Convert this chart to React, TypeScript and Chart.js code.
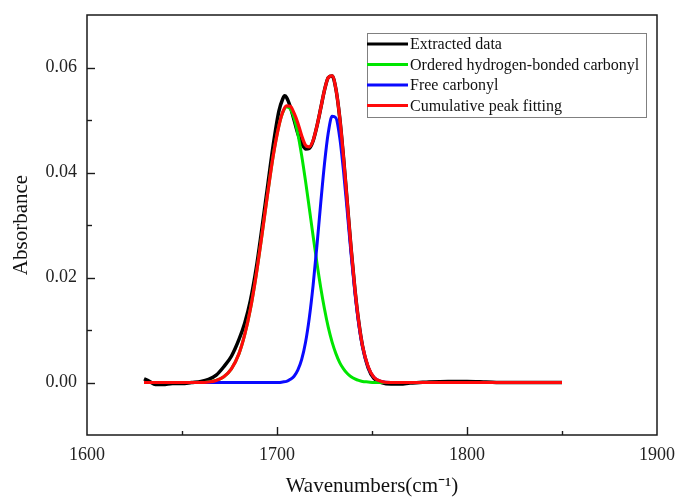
import React, { useEffect, useRef } from "react";
import { Chart, registerables } from "chart.js";
Chart.register(...registerables);

// Extracted (measured) spectrum
const dataX = [1630, 1633, 1636, 1640, 1645, 1650, 1655, 1660, 1664, 1668, 1672, 1676, 1680, 1683, 1686, 1689, 1692, 1695, 1698, 1701, 1703, 1704, 1705, 1707, 1709, 1711, 1713, 1715, 1717, 1719, 1721, 1723, 1725, 1727, 1729, 1731, 1733, 1735, 1737, 1739, 1741, 1743, 1745, 1748, 1751, 1755, 1760, 1765, 1770, 1775, 1780, 1790, 1800, 1810, 1820, 1830, 1840, 1850];
const extractedY = [0.0007, 0.0002, -0.0004, -0.0004, -0.0002, -0.0002, 0.0, 0.0002, 0.0006, 0.0014, 0.003, 0.005, 0.0082, 0.0113, 0.0156, 0.0216, 0.0292, 0.0372, 0.0452, 0.0517, 0.054, 0.0546, 0.0543, 0.0525, 0.05, 0.0474, 0.0455, 0.0445, 0.0446, 0.0460, 0.0488, 0.0522, 0.0557, 0.0581, 0.0584, 0.0559, 0.0505, 0.0429, 0.0342, 0.0255, 0.0178, 0.0116, 0.007, 0.0028, 0.0008, 0.0, -0.0003, -0.0003, -0.0001, 0.0, 0.0001, 0.0002, 0.0002, 0.0001, 0.0, 0.0, 0.0, 0.0];

// Fitted curves
const fitX = [1630, 1640, 1650, 1655, 1660, 1664, 1668, 1672, 1676, 1680, 1683, 1686, 1689, 1692, 1695, 1698, 1701, 1703, 1705, 1707, 1709, 1711, 1713, 1715, 1717, 1719, 1721, 1723, 1725, 1727, 1729, 1731, 1733, 1735, 1737, 1739, 1741, 1743, 1745, 1748, 1751, 1755, 1760, 1770, 1800, 1850];
const orderedY = [0, 0, 0, 0, 0, 0.0001, 0.0004, 0.0011, 0.0026, 0.0055, 0.0091, 0.014, 0.0204, 0.0279, 0.0358, 0.0432, 0.0489, 0.0514, 0.0525, 0.0521, 0.0503, 0.0473, 0.0432, 0.0384, 0.0332, 0.0279, 0.0228, 0.0181, 0.014, 0.0105, 0.0077, 0.0055, 0.0038, 0.0026, 0.0017, 0.0011, 0.0007, 0.0004, 0.0002, 0.0001, 0, 0, 0, 0, 0, 0];
const freeY = [0, 0, 0, 0, 0, 0, 0, 0, 0, 0, 0, 0, 0, 0, 0, 0, 0, 0.0001, 0.0002, 0.0006, 0.0012, 0.0024, 0.0044, 0.0076, 0.0123, 0.0185, 0.026, 0.0341, 0.0417, 0.0476, 0.0507, 0.0504, 0.0467, 0.0403, 0.0325, 0.0244, 0.0171, 0.0112, 0.0068, 0.0029, 0.001, 0.0002, 0, 0, 0, 0];
const cumulativeY = [0, 0, 0, 0, 0, 0.0001, 0.0004, 0.0011, 0.0026, 0.0055, 0.0091, 0.014, 0.0204, 0.0279, 0.0358, 0.0432, 0.0489, 0.0515, 0.0527, 0.0526, 0.0513, 0.0494, 0.0470, 0.0452, 0.0449, 0.0461, 0.0488, 0.0522, 0.0557, 0.0581, 0.0584, 0.0559, 0.0505, 0.0429, 0.0342, 0.0255, 0.0178, 0.0116, 0.007, 0.003, 0.001, 0.0002, 0, 0, 0, 0];

const seriesLabels = ["Extracted data", "Ordered hydrogen-bonded carbonyl", "Free carbonyl", "Cumulative peak fitting"];
const seriesColors = ["#000000", "#00e600", "#0a0aff", "#ff0a0a"];

const xTitle = "Wavenumbers(cm\u207B\u00B9)";
const yTitle = "Absorbance";

const FONT = '"Liberation Serif", "Times New Roman", serif';

const zip = (xs: number[], ys: number[]) => xs.map((x, i) => ({ x, y: ys[i] }));

const framePlugin = {
  id: "frameTicksLegend",
  afterDatasetsDraw(chart: any) {
    const { ctx, chartArea: a, scales } = chart;
    ctx.save();
    ctx.strokeStyle = "#1a1a1a";
    ctx.lineWidth = 1.5;
    ctx.strokeRect(a.left, a.top, a.right - a.left, a.bottom - a.top);
    ctx.lineWidth = 1.4;
    const xs = scales.x;
    xs.ticks.forEach((t: any) => {
      const v = t.value;
      if (v <= xs.min || v >= xs.max) return;
      const px = Math.round(xs.getPixelForValue(v)) + 0.5;
      const len = v % 100 === 0 ? 8 : 4;
      ctx.beginPath();
      ctx.moveTo(px, a.bottom);
      ctx.lineTo(px, a.bottom - len);
      ctx.stroke();
    });
    const ys = scales.y;
    ys.ticks.forEach((t: any) => {
      const v = t.value;
      if (v <= ys.min + 1e-9 || v >= ys.max - 1e-9) return;
      const py = Math.round(ys.getPixelForValue(v)) + 0.5;
      const major = Math.round(v * 100) % 2 === 0;
      const len = major ? 8 : 5;
      ctx.beginPath();
      ctx.moveTo(a.left, py);
      ctx.lineTo(a.left + len, py);
      ctx.stroke();
    });
    // legend
    const bx = a.left + 280;
    const by = a.top + 18;
    const bw = 279;
    const bh = 84;
    ctx.fillStyle = "#ffffff";
    ctx.fillRect(bx, by, bw, bh);
    ctx.strokeStyle = "#808080";
    ctx.lineWidth = 1;
    ctx.strokeRect(bx + 0.5, by + 0.5, bw, bh);
    ctx.font = `16px ${FONT}`;
    ctx.textBaseline = "middle";
    ctx.textAlign = "left";
    chart.data.datasets.forEach((ds: any, i: number) => {
      const ry = by + 11 + i * 20.5;
      ctx.strokeStyle = ds.borderColor;
      ctx.lineWidth = 3;
      ctx.beginPath();
      ctx.moveTo(bx, ry);
      ctx.lineTo(bx + 41, ry);
      ctx.stroke();
      ctx.fillStyle = "#111111";
      ctx.fillText(ds.label, bx + 43, ry + 1);
    });
    ctx.restore();
  },
};

export default function App() {
  const ref = useRef<HTMLCanvasElement | null>(null);
  useEffect(() => {
    document.body.style.margin = "0";
    const canvas = ref.current;
    if (!canvas) return;
    Chart.defaults.font.family = FONT;
    const mk = (i: number, data: any[], order: number, width: number) => ({
      label: seriesLabels[i],
      data,
      borderColor: seriesColors[i],
      backgroundColor: seriesColors[i],
      borderWidth: width,
      pointRadius: 0,
      fill: false,
      cubicInterpolationMode: "monotone" as const,
      order,
    });
    const chart = new Chart(canvas, {
      type: "line",
      data: {
        datasets: [
          mk(0, zip(dataX, extractedY), 4, 3.5),
          mk(1, zip(fitX, orderedY), 3, 3),
          mk(2, zip(fitX, freeY), 2, 3),
          mk(3, zip(fitX, cumulativeY), 1, 3.2),
        ],
      },
      options: {
        animation: false,
        responsive: false,
        devicePixelRatio: 1,
        layout: { padding: { left: 0, top: 15, right: 18, bottom: 0 } },
        plugins: { legend: { display: false }, tooltip: { enabled: false } },
        scales: {
          x: {
            type: "linear",
            min: 1600,
            max: 1900,
            grid: { display: false, drawTicks: false },
            border: { display: false },
            ticks: {
              stepSize: 50,
              autoSkip: false,
              maxRotation: 0,
              padding: 9,
              color: "#222",
              font: { size: 18, family: FONT },
              callback: (v: any) => (Number(v) % 100 === 0 ? String(v) : ""),
            },
            title: {
              display: true,
              text: xTitle,
              color: "#111",
              font: { size: 21, family: FONT, lineHeight: 1 },
              padding: { top: 0, bottom: 0 },
            },
            afterFit: (s: any) => {
              s.height = 62;
              s.paddingLeft = 0;
              s.paddingRight = 0;
            },
          },
          y: {
            type: "linear",
            min: -0.01,
            max: 0.07,
            grid: { display: false, drawTicks: false },
            border: { display: false },
            ticks: {
              stepSize: 0.01,
              autoSkip: false,
              padding: 10,
              color: "#222",
              font: { size: 18, family: FONT },
              callback: (v: any) => {
                const n = Math.round(Number(v) * 100);
                return n >= 0 && n <= 6 && n % 2 === 0 ? (n / 100).toFixed(2) : "";
              },
            },
            title: {
              display: true,
              text: yTitle,
              color: "#111",
              font: { size: 21, family: FONT, lineHeight: 1 },
              padding: { top: 11, bottom: 0 },
            },
            afterFit: (s: any) => {
              s.width = 87;
              s.paddingTop = 0;
              s.paddingBottom = 0;
            },
          },
        },
      },
      plugins: [framePlugin],
    });
    return () => chart.destroy();
  }, []);
  return (
    <div style={{ width: 675, height: 497, background: "#fff" }}>
      <canvas ref={ref} width={675} height={497} style={{ display: "block" }} />
    </div>
  );
}
